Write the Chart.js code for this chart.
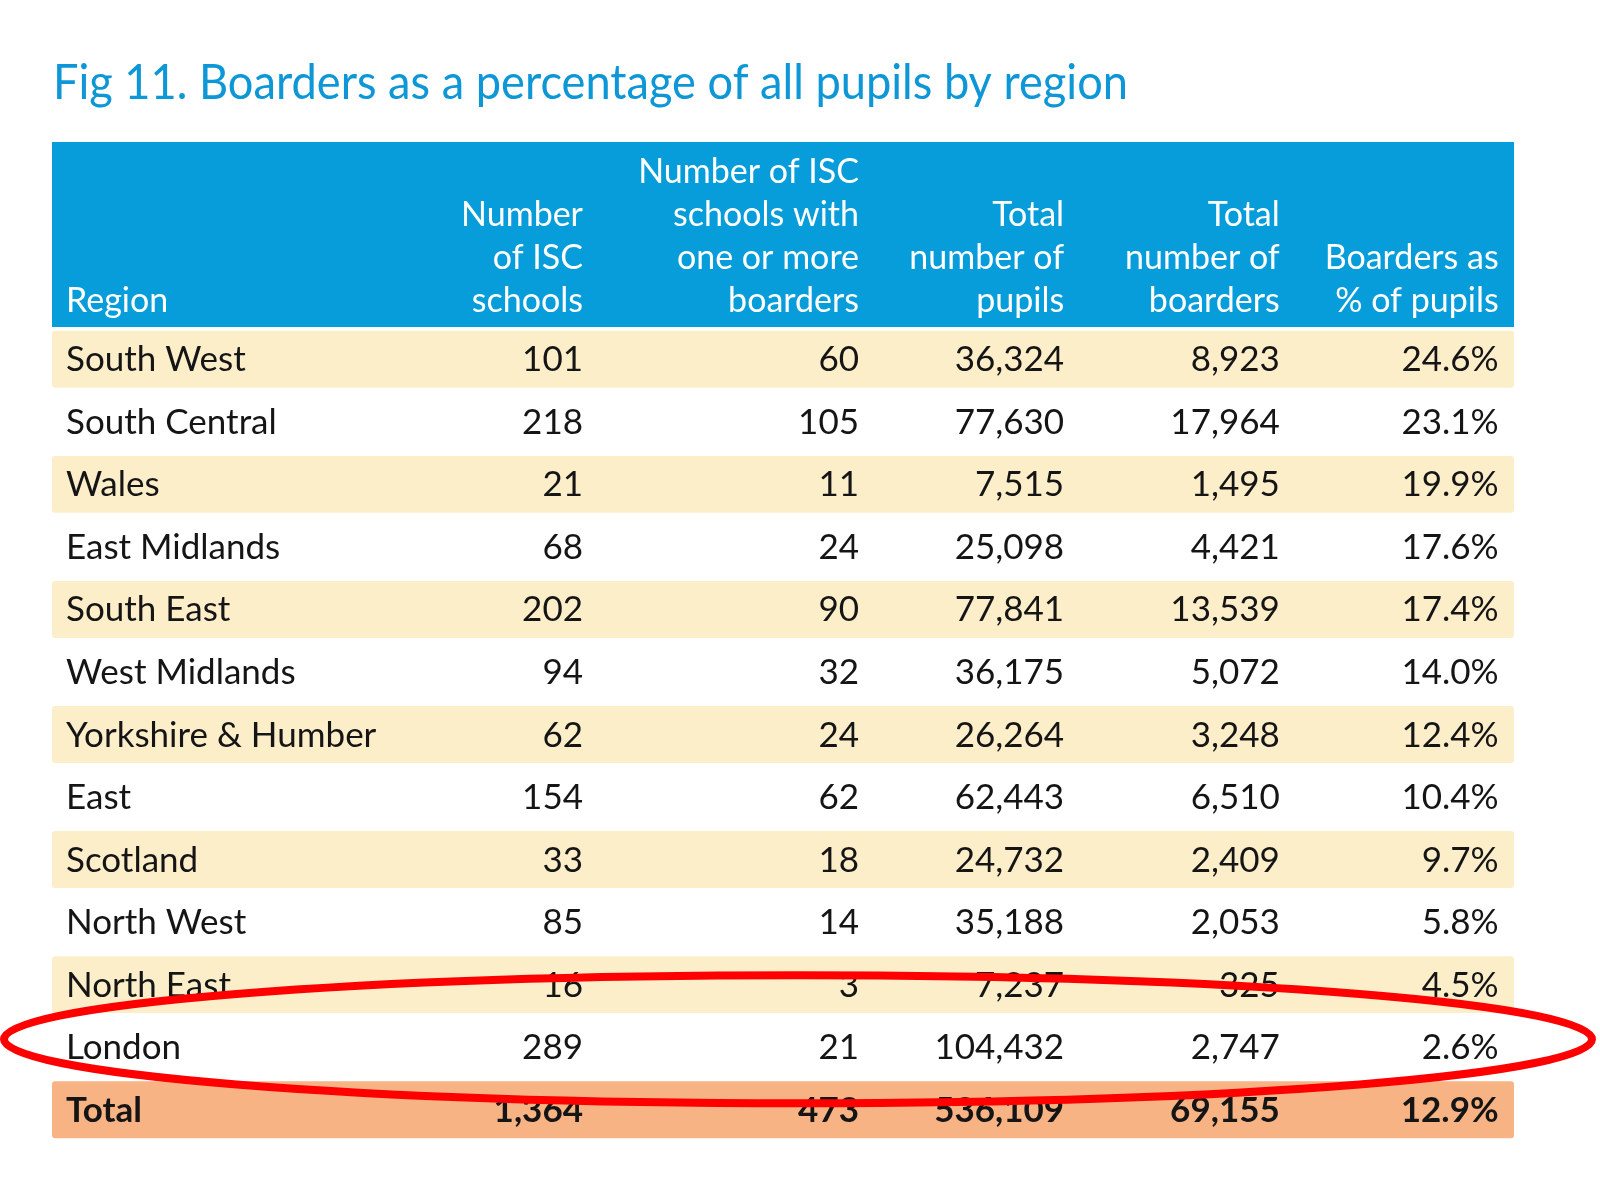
<!DOCTYPE html>
<html>
<head>
<meta charset="utf-8">
<script src="https://cdn.jsdelivr.net/npm/chart.js@4.4.1/dist/chart.umd.min.js"></script>
<style>
  body { margin: 0; background: #fff; }
  canvas { display: block; }
</style>
</head>
<body>
<canvas id="table" width="1600" height="1182"></canvas>
<script>
// table values
const regions = ['South West', 'South Central', 'Wales', 'East Midlands', 'South East', 'West Midlands',
    'Yorkshire & Humber', 'East', 'Scotland', 'North West', 'North East', 'London'];
const schools = [101, 218, 21, 68, 202, 94, 62, 154, 33, 85, 16, 289];
const schoolsWithBoarders = [60, 105, 11, 24, 90, 32, 24, 62, 18, 14, 3, 21];
const pupils = [36324, 77630, 7515, 25098, 77841, 36175, 26264, 62443, 24732, 35188, 7237, 104432];
const boarders = [8923, 17964, 1495, 4421, 13539, 5072, 3248, 6510, 2409, 2053, 325, 2747];
const boarderPct = [24.6, 23.1, 19.9, 17.6, 17.4, 14.0, 12.4, 10.4, 9.7, 5.8, 4.5, 2.6];
const totalRow = ['Total', 1364, 473, 536109, 69155, 12.9];
const headers = [
    ['Region'],
    ['Number', 'of ISC', 'schools'],
    ['Number of ISC', 'schools with', 'one or more', 'boarders'],
    ['Total', 'number of', 'pupils'],
    ['Total', 'number of', 'boarders'],
    ['Boarders as', '% of pupils']
];
const titleText = 'Fig 11. Boarders as a percentage of all pupils by region';
const highlighted = 'London';

// column anchors on the x scale (0..1 = table width)
const colEdges = [0.0096, 0.3632, 0.552, 0.6923, 0.8398, 0.9895];

const BLUE = '#079cda';
const CREAM = '#fdeeca';
const ORANGE = '#f8b384';
const INK = '#151515';
const FONT = 'Lato, "Open Sans", sans-serif';

const fmt = n => n.toLocaleString('en-GB');
const pct = n => n.toFixed(1) + '%';

const labels = regions.concat([totalRow[0]]);
const rowCells = regions.map((r, i) => [r, fmt(schools[i]), fmt(schoolsWithBoarders[i]), fmt(pupils[i]), fmt(boarders[i]), pct(boarderPct[i])]);
rowCells.push([totalRow[0], fmt(totalRow[1]), fmt(totalRow[2]), fmt(totalRow[3]), fmt(totalRow[4]), pct(totalRow[5])]);

const rowColors = labels.map((l, i) => i === labels.length - 1 ? ORANGE : (i % 2 === 0 ? CREAM : 'rgba(0,0,0,0)'));

function drawText(ctx, s, x, y, align, font, color, maxW) {
    ctx.font = font;
    ctx.fillStyle = color;
    ctx.textAlign = align;
    ctx.textBaseline = 'alphabetic';
    if (maxW) ctx.fillText(s, x, y, maxW);
    else ctx.fillText(s, x, y);
}

const tablePlugin = {
    id: 'tablePlugin',
    beforeDatasetsDraw(chart) {
        const ctx = chart.ctx;
        const a = chart.chartArea;
        ctx.save();
        // title, squeezed to the width it has in the figure
        drawText(ctx, titleText, a.left + 1, a.top - 229, 'left', '48px ' + FONT, '#0e97d6', 1075);
        // header band
        ctx.fillStyle = BLUE;
        ctx.fillRect(a.left, a.top - 186, a.right - a.left, 185);
        ctx.restore();
    },
    afterDatasetsDraw(chart) {
        const ctx = chart.ctx;
        const a = chart.chartArea;
        const xs = chart.scales.x;
        const ys = chart.scales.y;
        ctx.save();
        // header text, bottom aligned
        const headBase = a.top - 16;
        headers.forEach((lines, c) => {
            const x = xs.getPixelForValue(colEdges[c]);
            lines.forEach((ln, k) => {
                const y = headBase - (lines.length - 1 - k) * 43;
                drawText(ctx, ln, x, y, c === 0 ? 'left' : 'right', '34px ' + FONT, '#ffffff');
            });
        });
        // body cells
        rowCells.forEach((cells, r) => {
            const y = ys.getPixelForValue(r) + 12;
            const bold = r === rowCells.length - 1;
            const font = (bold ? 'bold ' : '') + '35px ' + FONT;
            cells.forEach((s, c) => {
                drawText(ctx, s, xs.getPixelForValue(colEdges[c]), y, c === 0 ? 'left' : 'right', font, INK);
            });
        });
        ctx.restore();
    },
    afterDraw(chart) {
        // red hand-drawn ring round the highlighted row
        const ctx = chart.ctx;
        const ys = chart.scales.y;
        const cy = ys.getPixelForValue(labels.indexOf(highlighted)) - 8;
        ctx.save();
        ctx.strokeStyle = '#ff0000';
        ctx.lineWidth = 8;
        ctx.beginPath();
        ctx.ellipse(chart.width / 2 - 2, cy, chart.width / 2 - 6, 64, 0, 0, Math.PI * 2);
        ctx.stroke();
        ctx.restore();
    }
};

new Chart(document.getElementById('table'), {
    type: 'bar',
    data: {
        labels: labels,
        datasets: [{
            data: labels.map(() => [0, 1]),
            backgroundColor: rowColors,
            barPercentage: 0.91,
            categoryPercentage: 1,
            borderRadius: 3,
            borderSkipped: false
        }]
    },
    options: {
        indexAxis: 'y',
        responsive: false,
        animation: false,
        layout: { padding: { left: 52, right: 86, top: 328, bottom: 41 } },
        scales: {
            x: { type: 'linear', min: 0, max: 1, display: false },
            y: { display: false }
        },
        plugins: {
            legend: { display: false },
            tooltip: { enabled: false },
            title: { display: false }
        }
    },
    plugins: [tablePlugin]
});
</script>
</body>
</html>
